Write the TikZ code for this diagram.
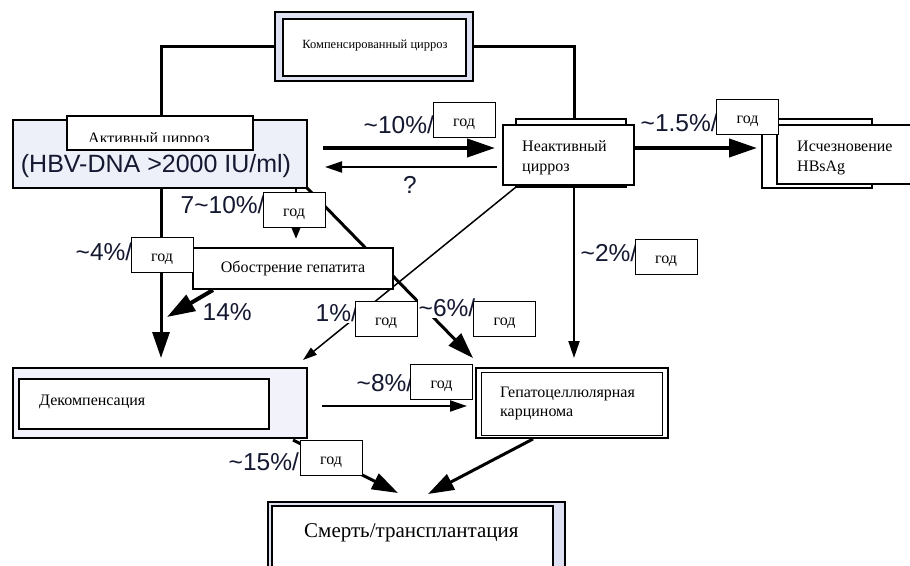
\documentclass[tikz,border=0pt]{standalone}
\usepackage{fontspec}
\setmainfont{Liberation Serif}
\newfontfamily\arialf{Liberation Sans}
\usetikzlibrary{arrows.meta,calc}
\definecolor{lavA}{HTML}{EEF0F9}
\definecolor{lavB}{HTML}{DDE1F2}
\definecolor{lavC}{HTML}{F2F3FA}
\definecolor{pctc}{HTML}{141830}
\tikzset{
  bx/.style={draw=black, inner sep=0pt, outer sep=0pt},
  god/.style={draw=black, fill=white, line width=1pt, minimum width=62pt, minimum height=35pt, inner sep=0pt, text height=13pt, text depth=0pt, font=\fontsize{16}{19}\selectfont},
  pct/.style={font=\arialf\fontsize{24.5}{28}\selectfont, text=pctc, fill=white, inner sep=0.5pt, anchor=west},
  txt/.style={inner sep=0pt, align=left, font=\fontsize{16}{20}\selectfont},
  heavy/.style={line width=4pt, -{Triangle[length=28pt,width=18pt]}},
  bold/.style={line width=3pt, -{Triangle[length=26pt,width=17pt]}},
  mid/.style={line width=2pt, -{Triangle[length=17pt,width=11pt]}},
  thin/.style={line width=1.5pt, -{Triangle[length=14pt,width=9pt]}},
  plain/.style={line width=3pt}
}
\begin{document}
\begin{tikzpicture}[x=1pt,y=-1pt]
\useasboundingbox (0,0) rectangle (910,565);

% ---------- boxes ----------
% Kompensated
\node[bx, fill=lavB, line width=2.5pt, minimum width=198pt, minimum height=69pt] (komp) at (374,46.5) {};
\node[bx, fill=white, line width=1.2pt, minimum width=183pt, minimum height=57pt] (kompin) at (374.5,47.5) {};
\node[inner sep=0pt, font=\fontsize{12.5}{14}\selectfont] (kompt) at (375,46) {Компенсированный цирроз};

% Active
\node[bx, fill=lavA, line width=2pt, minimum width=294pt, minimum height=68pt] (act) at (160,154) {};
\node[font=\arialf\fontsize{25}{30}\selectfont, text=pctc, inner sep=0pt, anchor=base] (hbv) at (156,172) {(HBV-DNA >2000 IU/ml)};

% Inactive
\node[bx, line width=2.5pt, minimum width=110pt, minimum height=68pt] (neab) at (571,153) {};
\node[bx, fill=white, line width=1.2pt, minimum width=131pt, minimum height=60pt] (nea) at (568.5,155) {};
\node[txt, anchor=west] (neat) at (522,158) {Неактивный\\цирроз};

% HBsAg loss
\node[bx, line width=2.5pt, minimum width=110pt, minimum height=69pt] (iscb) at (817,153.5) {};
\node[bx, fill=white, line width=1.2pt, minimum width=138pt, minimum height=59pt] (isc) at (846,154.5) {};
\node[txt, anchor=west] (isct) at (797,158) {Исчезновение\\HBsAg};

% Decompensation
\node[bx, fill=lavC, line width=2.5pt, minimum width=294pt, minimum height=70pt] (dec) at (160,403) {};
\node[bx, fill=white, line width=1.2pt, minimum width=250pt, minimum height=50pt] (decin) at (144,404) {};
\node[txt, anchor=base west] (dect) at (39,405) {Декомпенсация};

% HCC
\node[bx, fill=white, line width=2.5pt, minimum width=192pt, minimum height=70pt] (hcc) at (572,403) {};
\node[bx, line width=1pt, minimum width=181pt, minimum height=63pt] (hccin) at (571.5,403.5) {};
\node[txt, anchor=west, font=\fontsize{16}{19}\selectfont] (hcct) at (500,403) {Гепатоцеллюлярная\\карцинома};

% Death / transplant
\node[bx, fill=lavB, line width=2.5pt, minimum width=297pt, minimum height=90pt] (sm) at (416.5,547) {};
\node[bx, fill=white, line width=1.2pt, minimum width=281pt, minimum height=84pt] (smin) at (412.5,548) {};
\node[inner sep=0pt, anchor=base west, font=\fontsize{21}{24}\selectfont] (smt) at (304,537) {Смерть/трансплантация};

% ---------- connectors ----------
\draw[plain] (komp.west) -- (161,46.5) coordinate (kl) -- (161,116);
\draw[plain] (komp.east) -- (574,46.5) coordinate (kr) -- (574,119);

% Active label box (over the line end)
\node[bx, fill=white, line width=1.2pt, minimum width=186pt, minimum height=34pt] (actl) at (160,133) {};
\begin{scope}
  \clip (67,116) rectangle (253,141);
  \node[inner sep=0pt, anchor=base west, font=\fontsize{16}{19}\selectfont] (actlt) at (88,143) {Активный цирроз};
\end{scope}

\draw[heavy] ([shift={(16,-6)}]act.east) -- ([shift={(-8,-7)}]nea.west);
\draw[mid] ([shift={(-6,12)}]nea.west) -- ([shift={(18,13)}]act.east);
\draw[heavy] ([shift={(0,-7)}]nea.east) -- ([shift={(-5,-5.5)}]iscb.west);

\draw[bold] ([shift={(1,0)}]act.south) -- ([shift={(1,-10)}]dec.north);
\draw[bold] (act.south east) -- ([shift={(-3,-10)}]hcc.north west);
\draw[thin] (neab.south west) -- ([shift={(-4,-8)}]dec.north east);
\draw[mid] ([shift={(3,0)}]neab.south) -- ([shift={(2,-10)}]hcc.north);
\draw[mid] ([shift={(15,3)}]dec.east) -- ([shift={(-9,3)}]hcc.west);
\draw[bold] ([shift={(-14,2)}]dec.south east) -- ([shift={(-18.5,-9)}]sm.north);
\draw[bold] ([shift={(-39,1)}]hcc.south) -- ([shift={(11.5,-8)}]sm.north);

% Exacerbation box
\draw[line width=2.5pt, -{Triangle[length=12pt,width=9pt]}] ([shift={(136,0)}]act.south) -- (296,239) coordinate (obtip);
\node[bx, fill=white, line width=1.2pt, minimum width=200pt, minimum height=41pt, font=\fontsize{16}{19}\selectfont] (obo) at (293,268.5) {Обострение гепатита};
\coordinate (e14) at (167,317);
\draw[heavy] ([shift={(20,1)}]obo.south west) -- (e14);

% ---------- labels ----------
\node[pct] (p10) at (363,125) {\textasciitilde 10\%/};
\node[pct] (p15) at (640,123) {\textasciitilde 1.5\%/};
\node[pct] (p710) at (180,205) {7\textasciitilde 10\%/};
\node[pct] (p4) at (75,252) {\textasciitilde 4\%/};
\node[pct] (p14) at (202,312) {14\%};
\node[pct] (p1) at (315,313) {1\%/};
\node[pct] (p6) at (418,308) {\textasciitilde 6\%/};
\node[pct] (p2) at (580,253) {\textasciitilde 2\%/};
\node[pct] (p8) at (356,383) {\textasciitilde 8\%/};
\node[pct] (p15b) at (228,462) {\textasciitilde 15\%/};
\node[pct, anchor=center, fill=none] (q) at (410,185) {?};

\node[god] (g1) at (464,119.5) {год};
\node[god] (g2) at (747.5,117) {год};
\node[god] (g3) at (294,209.5) {год};
\node[god] (g4) at (162,254.5) {год};
\node[god] (g5) at (386,318.5) {год};
\node[god] (g6) at (504.5,318.5) {год};
\node[god] (g7) at (666,256.5) {год};
\node[god] (g8) at (441.5,381.5) {год};
\node[god] (g9) at (331,457.5) {год};
\end{tikzpicture}
\end{document}
